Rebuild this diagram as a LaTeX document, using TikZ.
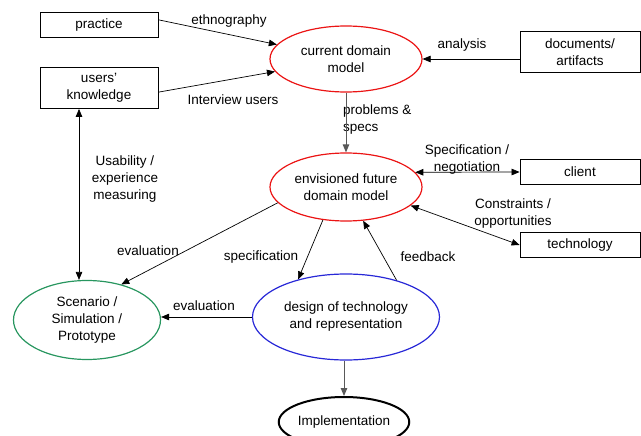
\documentclass[tikz,border=0pt]{standalone}
\usepackage{fontspec}
\setmainfont{Liberation Sans}
\usetikzlibrary{shapes.geometric,arrows.meta}
\definecolor{ovred}{RGB}{235,20,20}
\definecolor{ovgreen}{RGB}{40,150,95}
\definecolor{ovblue}{RGB}{40,40,215}
\begin{document}
\begin{tikzpicture}[x=1pt,y=-1pt,
  every node/.style={font=\fontsize{13.5}{17}\selectfont, align=center, inner sep=0pt},
  box/.style={draw, line width=0.8pt, minimum width=118pt},
  oval/.style={ellipse, line width=1.2pt},
  lbl/.style={},
  arr/.style={-{Triangle[length=8pt,width=6.5pt]}, line width=0.7pt},
  darr/.style={{Triangle[length=8pt,width=6.5pt]}-{Triangle[length=8pt,width=6.5pt]}, line width=0.7pt},
  garr/.style={arr, draw=black!65, line width=1pt}]
\useasboundingbox (0,0) rectangle (641,436);
% boxes
\node[box, minimum height=25pt] (practice) at (99,25) {practice};
\node[box, minimum height=41pt] (users) at (99,88) {users’\\knowledge};
\node[box, minimum height=41pt, minimum width=120pt] (docs) at (580,52) {documents/\\artifacts};
\node[box, minimum height=25pt, minimum width=120pt] (client) at (580,172) {client};
\node[box, minimum height=25pt, minimum width=120pt] (tech) at (580,245) {technology};
% ovals
\node[oval, draw=ovred, minimum width=152pt, minimum height=66pt] (cur) at (346,59) {current domain\\model};
\node[oval, draw=ovred, minimum width=152pt, minimum height=68pt] (env) at (346,187) {envisioned future\\domain model};
\node[oval, draw=ovgreen, minimum width=147pt, minimum height=79pt] (scen) at (87,320) {Scenario /\\Simulation /\\Prototype};
\node[oval, draw=ovblue, minimum width=187pt, minimum height=86pt] (design) at (346,317) {design of technology\\and representation};
\node[oval, draw=black, line width=2pt, minimum width=126pt, minimum height=50pt] (impl) at (344,422) {Implementation};
% labels
\node[lbl] (lethno) at (229,21) {ethnography};
\node[lbl] (linter) at (233,100) {Interview users};
\node[lbl] (lanal) at (462,45) {analysis};
\node[lbl, anchor=west, align=left] (lprob) at (343,120) {problems \&\\specs};
\node[lbl] (lspec) at (467,160) {Specification /\\negotiation};
\node[lbl] (lcons) at (513,214) {Constraints /\\opportunities};
\node[lbl] (lusab) at (125,179) {Usability /\\experience\\measuring};
\node[lbl] (leval1) at (148,251) {evaluation};
\node[lbl] (lspecif) at (261,257) {specification};
\node[lbl] (lfeed) at (428,257) {feedback};
\node[lbl] (leval2) at (204,306) {evaluation};
% connectors
\draw[arr] (practice.5) -- (cur);
\draw[arr] (users.-4) -- (cur);
\draw[arr] (docs.west |- cur.east) -- (cur.east);
\draw[garr] (cur.south) -- (env.north);
\draw[darr] (env.12) -- (client.west);
\draw[darr] (env.-16) -- (tech.west);
\draw[darr] ([xshift=-20pt]users.south) -- ([xshift=-8pt]scen.north);
\draw[arr] (env.193) -- (scen.46);
\draw[arr] (env.235) -- (design.142);
\draw[arr] (design.36) -- (env.297);
\draw[arr] (design.west) -- (design.west -| scen.east);
\draw[garr] (impl.north |- design.south) -- (impl.north);
\end{tikzpicture}
\end{document}
